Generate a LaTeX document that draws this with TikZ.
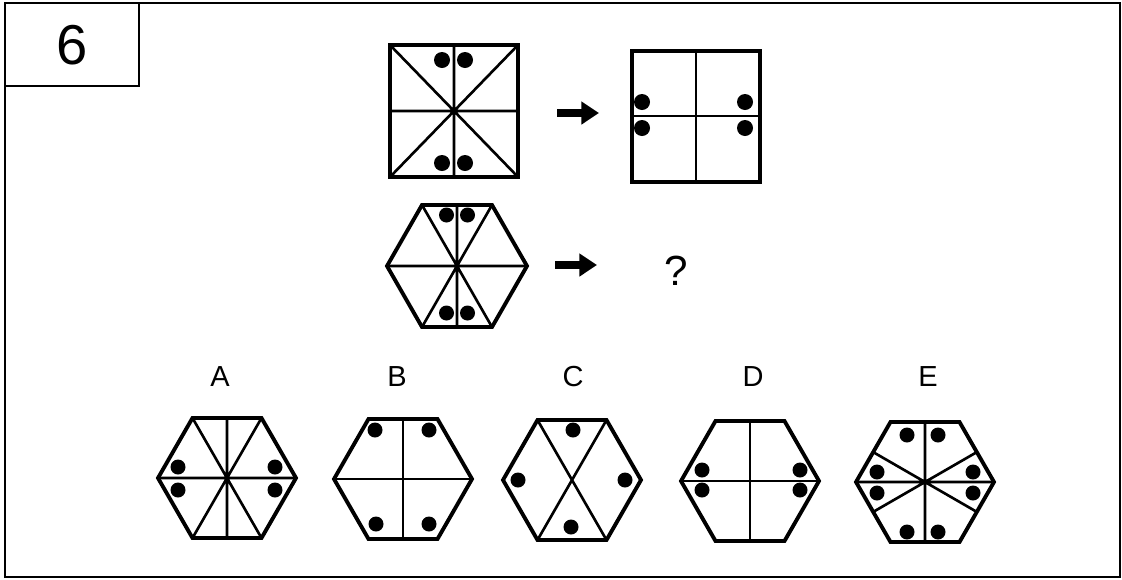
\documentclass[tikz,border=0pt]{standalone}
\usepackage{fontspec}
\setmainfont{Liberation Sans}
\usepackage{tikz}
\usetikzlibrary{arrows.meta}

\begin{document}
\begin{tikzpicture}[x={(0.02cm,0cm)},y={(0cm,-0.02cm)},
  frameline/.style={line width=1.6pt},
  outline/.style={line width=2.2pt, line join=miter},
  midline/.style={line width=1.5pt},
  pointer/.style={line width=4.8pt,-{Triangle[length=10pt,width=12.5pt]}},
  every node/.style={inner sep=0pt, outer sep=0pt}]
\useasboundingbox (0,0) rectangle (1122,579);
% frame and number box
\draw[frameline] (5,3) rectangle (1120,577);
\draw[frameline] (5,3) rectangle (139,86);
\node[font=\fontsize{32}{36}\selectfont] (num) at (72,45) {6};
% first pair: square -> square
\draw[outline] (390,45) rectangle (518,177);
\draw[midline] (390,45) -- (518,177) (518,45) -- (390,177) (454,45) -- (454,177) (390,111) -- (518,111);
\fill (442,60) circle[radius=0.16cm];
\fill (465,60) circle[radius=0.16cm];
\fill (442,163) circle[radius=0.16cm];
\fill (465,163) circle[radius=0.16cm];
\coordinate (p1s) at (557,113);
\coordinate (p1e) at (599,113);
\draw[pointer] (p1s) -- (p1e);
\draw[outline] (632,51) rectangle (760,182);
\draw[midline] (696,51) -- (696,182) (632,116) -- (760,116);
\fill (642,102) circle[radius=0.16cm];
\fill (642,128) circle[radius=0.16cm];
\fill (745,102) circle[radius=0.16cm];
\fill (745,128) circle[radius=0.16cm];
% second pair: hexagon -> ?
\begin{scope}[shift={(457,266)}]
\draw[outline] (-70,0) -- (-35,-61) -- (35,-61) -- (70,0) -- (35,61) -- (-35,61) -- cycle;
\draw[midline] (-70,0) -- (70,0) (-35,-61) -- (35,61) (35,-61) -- (-35,61) (0,-61) -- (0,61);
\fill (-10.5,-51) circle[radius=0.15cm];
\fill (10.5,-51) circle[radius=0.15cm];
\fill (-10.5,47) circle[radius=0.15cm];
\fill (10.5,47) circle[radius=0.15cm];
\end{scope}
\coordinate (p2s) at (555,265);
\coordinate (p2e) at (597,265);
\draw[pointer] (p2s) -- (p2e);
\node[font=\fontsize{24}{28}\selectfont] (qmark) at (676,271) {?};
% answer labels
\node[font=\fontsize{16.5}{19}\selectfont] (labA) at (220,377) {A};
\node[font=\fontsize{16.5}{19}\selectfont] (labB) at (397,377) {B};
\node[font=\fontsize{16.5}{19}\selectfont] (labC) at (573,377) {C};
\node[font=\fontsize{16.5}{19}\selectfont] (labD) at (753,377) {D};
\node[font=\fontsize{16.5}{19}\selectfont] (labE) at (928,377) {E};
% A
\begin{scope}[shift={(227,478)}]
\draw[outline] (-69,0) -- (-34.5,-60) -- (34.5,-60) -- (69,0) -- (34.5,60) -- (-34.5,60) -- cycle;
\draw[midline] (-69,0) -- (69,0) (-34.5,-60) -- (34.5,60) (34.5,-60) -- (-34.5,60) (0,-60) -- (0,60);
\fill (-49,-11) circle[radius=0.15cm];
\fill (-49,12) circle[radius=0.15cm];
\fill (48,-11) circle[radius=0.15cm];
\fill (48,12) circle[radius=0.15cm];
\end{scope}
% B
\begin{scope}[shift={(403,479)}]
\draw[outline] (-69,0) -- (-34.5,-60) -- (34.5,-60) -- (69,0) -- (34.5,60) -- (-34.5,60) -- cycle;
\draw[midline] (-69,0) -- (69,0) (0,-60) -- (0,60);
\fill (-28,-49) circle[radius=0.15cm];
\fill (26,-49) circle[radius=0.15cm];
\fill (-27,45) circle[radius=0.15cm];
\fill (26,45) circle[radius=0.15cm];
\end{scope}
% C
\begin{scope}[shift={(572,480)}]
\draw[outline] (-69,0) -- (-34.5,-60) -- (34.5,-60) -- (69,0) -- (34.5,60) -- (-34.5,60) -- cycle;
\draw[midline] (-34.5,-60) -- (34.5,60) (34.5,-60) -- (-34.5,60);
\fill (1,-50) circle[radius=0.15cm];
\fill (-1,47) circle[radius=0.15cm];
\fill (-54,0) circle[radius=0.15cm];
\fill (53,0) circle[radius=0.15cm];
\end{scope}
% D
\begin{scope}[shift={(750,481)}]
\draw[outline] (-69,0) -- (-34.5,-60) -- (34.5,-60) -- (69,0) -- (34.5,60) -- (-34.5,60) -- cycle;
\draw[midline] (-69,0) -- (69,0) (0,-60) -- (0,60);
\fill (-48,-11) circle[radius=0.15cm];
\fill (-48,9) circle[radius=0.15cm];
\fill (50,-11) circle[radius=0.15cm];
\fill (50,9) circle[radius=0.15cm];
\end{scope}
% E
\begin{scope}[shift={(925,482)}]
\draw[outline] (-69,0) -- (-34.5,-60) -- (34.5,-60) -- (69,0) -- (34.5,60) -- (-34.5,60) -- cycle;
\draw[midline] (-69,0) -- (69,0) (0,-60) -- (0,60) (-52,-30) -- (52,30) (52,-30) -- (-52,30);
\fill (-18,-47) circle[radius=0.15cm];
\fill (13,-47) circle[radius=0.15cm];
\fill (-18,50) circle[radius=0.15cm];
\fill (13,50) circle[radius=0.15cm];
\fill (-48,-10) circle[radius=0.15cm];
\fill (-48,11) circle[radius=0.15cm];
\fill (48,-10) circle[radius=0.15cm];
\fill (48,11) circle[radius=0.15cm];
\end{scope}
\end{tikzpicture}
\end{document}
